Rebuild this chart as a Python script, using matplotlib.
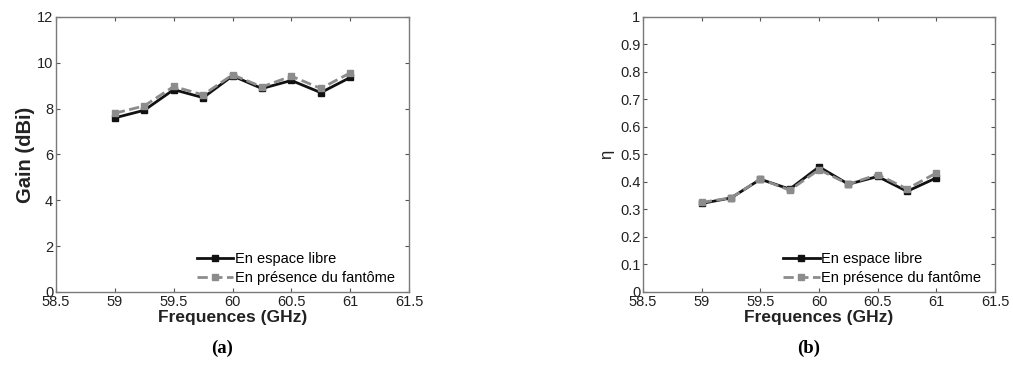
import matplotlib
matplotlib.use("Agg")
import matplotlib.pyplot as plt

plt.rcParams['font.family'] = ['Liberation Sans', 'DejaVu Sans']

freq = [59, 59.25, 59.5, 59.75, 60, 60.25, 60.5, 60.75, 61]

gain_libre = [7.6, 7.93, 8.83, 8.48, 9.43, 8.88, 9.23, 8.7, 9.36]
gain_fantome = [7.8, 8.12, 8.97, 8.6, 9.48, 8.95, 9.42, 8.88, 9.56]

eta_libre = [0.322, 0.342, 0.41, 0.374, 0.455, 0.392, 0.42, 0.366, 0.415]
eta_fantome = [0.326, 0.342, 0.411, 0.37, 0.445, 0.392, 0.427, 0.375, 0.433]

xticks = [58.5, 59, 59.5, 60, 60.5, 61, 61.5]
xticklabels = ['58.5', '59', '59.5', '60', '60.5', '61', '61.5']
gain_ticks = [0, 2, 4, 6, 8, 10, 12]
eta_ticks = [0, 0.1, 0.2, 0.3, 0.4, 0.5, 0.6, 0.7, 0.8, 0.9, 1]
eta_labels = ['0', '0.1', '0.2', '0.3', '0.4', '0.5', '0.6', '0.7', '0.8', '0.9', '1']

fig = plt.figure(figsize=(10.13, 3.67), dpi=100)
ax1 = fig.add_axes([0.0553, 0.2044, 0.3485, 0.7493])
ax2 = fig.add_axes([0.6348, 0.2044, 0.3475, 0.7493])

black = '#111111'
gray = '#8c8c8c'

def style(ax):
    for s in ax.spines.values():
        s.set_color('#7a7a7a')
        s.set_linewidth(1.0)
    ax.tick_params(direction='in', top=True, right=True, length=3,
                   color='#555555', labelsize=10.5, labelcolor='#222222', pad=2)
    ax.set_xlim(58.5, 61.5)
    ax.set_xticks(xticks)
    ax.set_xticklabels(xticklabels)
    ax.set_xlabel('Frequences (GHz)', fontsize=12.5, fontweight='bold',
                  color='#222222', labelpad=1)
    ax.legend(loc='lower right', bbox_to_anchor=(0.989, -0.011), frameon=False,
              fontsize=10.5, handlelength=2.5, handletextpad=0.1,
              labelspacing=0.35, borderaxespad=0.3)

# (a) gain
ax1.plot(freq, gain_libre, '-s', color=black, lw=2, ms=4.5, label='En espace libre')
ax1.plot(freq, gain_fantome, '--s', color=gray, lw=2, ms=4.5, label='En présence du fantôme')
style(ax1)
ax1.set_ylim(0, 12)
ax1.set_yticks(gain_ticks)
ax1.set_ylabel('Gain (dBi)', fontsize=14.5, fontweight='bold', color='#222222', labelpad=1)

# (b) efficiency
ax2.plot(freq, eta_libre, '-s', color=black, lw=2, ms=4.5, label='En espace libre')
ax2.plot(freq, eta_fantome, '--s', color=gray, lw=2, ms=4.5, label='En présence du fantôme')
style(ax2)
ax2.set_ylim(0, 1)
ax2.set_yticks(eta_ticks)
ax2.set_yticklabels(eta_labels)
ax2.set_ylabel('η', fontsize=12, color='#222222', labelpad=4)

fig.text(0.219, 0.052, '(a)', fontsize=13.5, fontweight='bold',
         family='Liberation Serif', ha='center', va='center')
fig.text(0.798, 0.052, '(b)', fontsize=13.5, fontweight='bold',
         family='Liberation Serif', ha='center', va='center')

fig.savefig('out.png', dpi=100)
